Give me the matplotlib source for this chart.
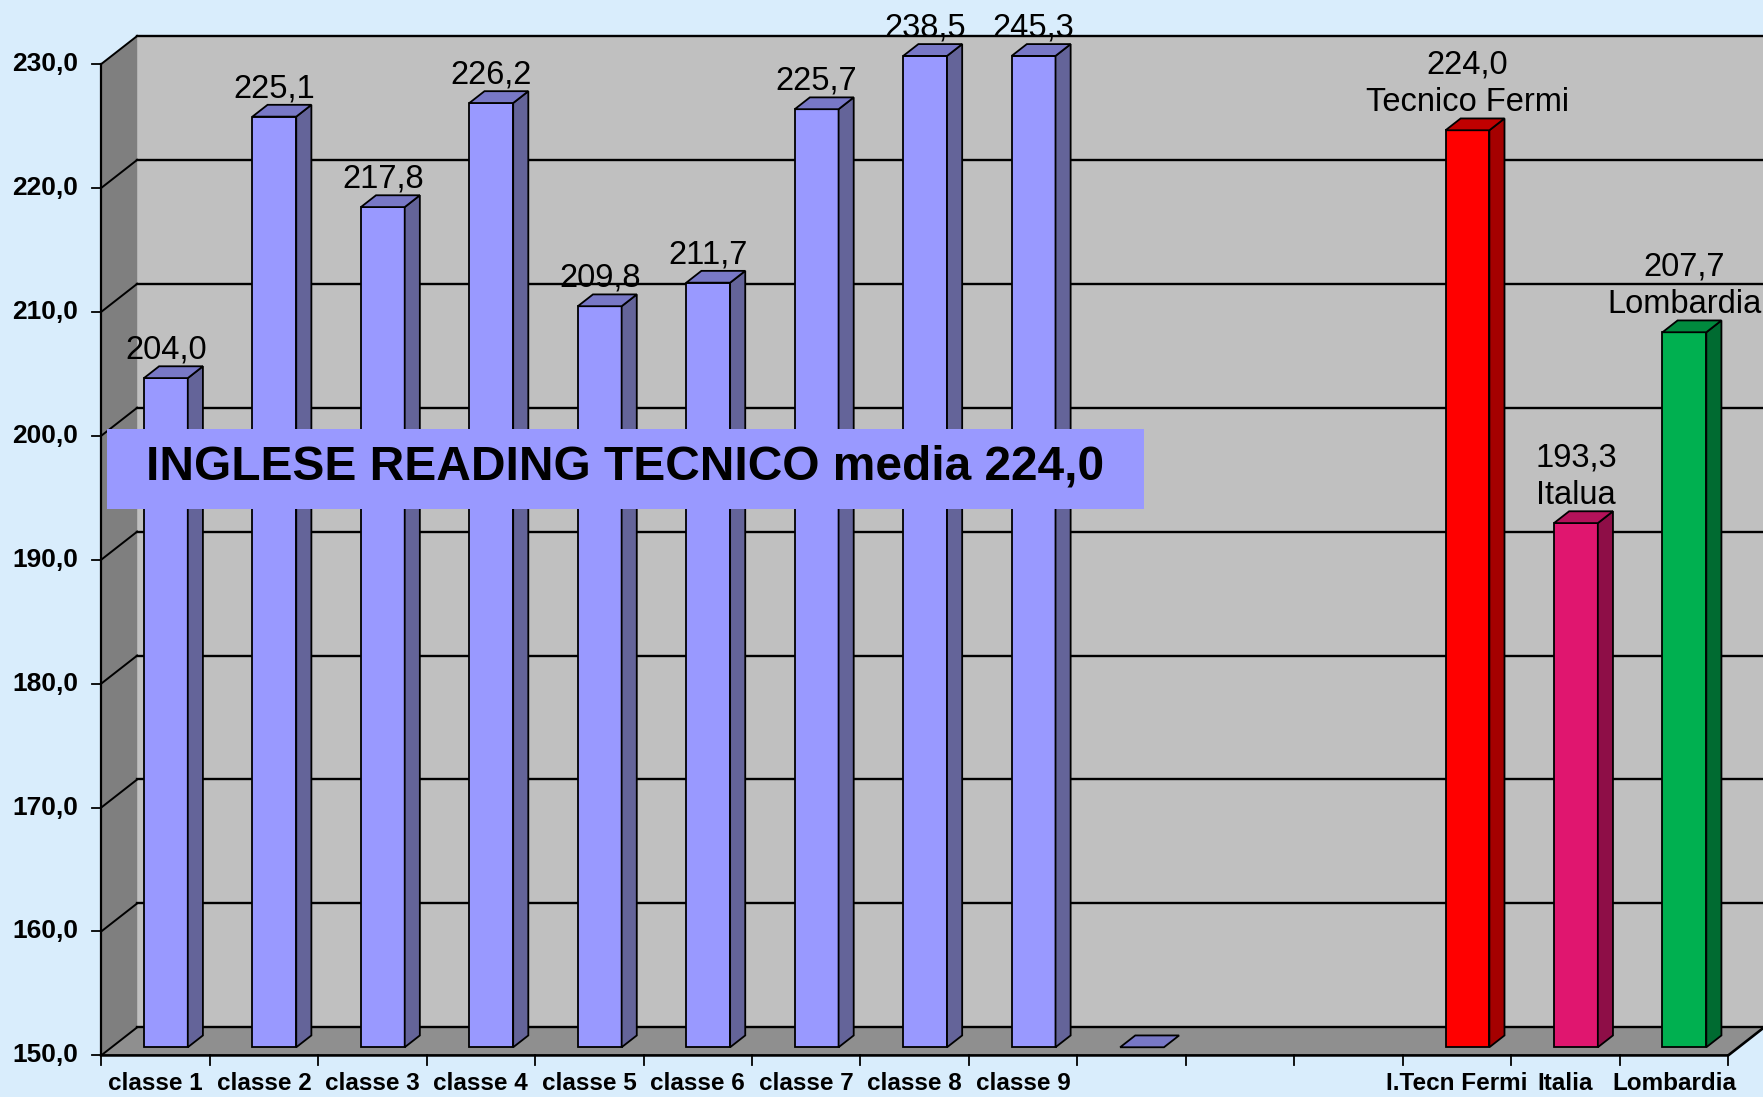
import matplotlib.pyplot as plt
from matplotlib.patches import Polygon
import numpy as np

plt.rcParams['font.family'] = ['Liberation Sans', 'DejaVu Sans']

# data
categories = ['classe 1', 'classe 2', 'classe 3', 'classe 4', 'classe 5', 'classe 6',
              'classe 7', 'classe 8', 'classe 9', '', '', '',
              'I.Tecn Fermi', 'Italia', 'Lombardia']
values = [204.0, 225.1, 217.8, 226.2, 209.8, 211.7, 225.7, 238.5, 245.3,
          0.0, None, None, 224.0, 192.3, 207.7]
value_labels = ['204,0', '225,1', '217,8', '226,2', '209,8', '211,7', '225,7', '238,5', '245,3',
                '', '', '', '224,0\nTecnico Fermi', '193,3\nItalua', '207,7\nLombardia']
yticks = [150, 160, 170, 180, 190, 200, 210, 220, 230]
title = 'INGLESE READING TECNICO media 224,0'

purple = ('#9999FF', '#646499', '#7878C6')
bar_colors = [purple] * 12 + [('#FF0000', '#A50000', '#C00000'),
                              ('#E0166F', '#8E0E47', '#B4125A'),
                              ('#00B050', '#006B31', '#008A3E')]

ymin, ymax = 150, 230
DX, DY = 0.332, 2.27        # full depth of the 3d box, in data units
d0, d1 = 0.29, 0.71         # bar front / back depth fraction
bw = 0.404                  # bar width

fig = plt.figure(figsize=(17.63, 10.97), dpi=100)
fig.patch.set_facecolor('#D9EDFC')
ax = fig.add_axes([0, 0, 1, 1])
ax.set_xlim(-0.933, 15.321)
ax.set_ylim(146.644, 235.17)
ax.axis('off')

n = len(categories)

# walls and floor
ax.add_patch(Polygon([(DX, ymin + DY), (n + 2 * DX, ymin + DY), (n + 2 * DX, ymax + DY), (DX, ymax + DY)],
                     closed=True, fc='#C0C0C0', ec='none', zorder=1))
ax.add_patch(Polygon([(0, ymin), (DX, ymin + DY), (DX, ymax + DY), (0, ymax)],
                     closed=True, fc='#7F7F7F', ec='none', zorder=1))
ax.add_patch(Polygon([(0, ymin), (n, ymin), (n + DX, ymin + DY), (DX, ymin + DY)],
                     closed=True, fc='#8F8F8F', ec='none', zorder=1.5))

for t in yticks:
    ax.plot([DX, n + 2 * DX], [t + DY, t + DY], color='black', lw=1.7, zorder=2)
    ax.plot([0, DX], [t, t + DY], color='black', lw=1.4, zorder=2)
    ax.plot([-0.085, 0], [t, t], color='black', lw=1.3, zorder=2)
    ax.text(-0.215, t, f'{t:.1f}'.replace('.', ','), ha='right', va='center',
            fontsize=19, fontweight='bold', zorder=5)

ax.plot([0, 0], [ymin, ymax], color='black', lw=1.6, zorder=2)
ax.plot([0, n, n + DX], [ymin, ymin, ymin + DY], color='black', lw=1.9, zorder=2)
for i in range(n + 1):
    ax.plot([i, i], [ymin, ymin - 0.8], color='black', lw=1.3, zorder=2)

for i, lab in enumerate(categories):
    ax.text(i + 0.5, 147.7, lab, ha='center', va='center', fontsize=17.5,
            fontweight='bold', zorder=5)

# bars
for i, v in enumerate(values):
    if v is None:
        continue
    front, side, topc = bar_colors[i]
    x0 = i + 0.5 - bw / 2
    fx, fy = d0 * DX, d0 * DY
    bx, by = d1 * DX, d1 * DY
    top = min(max(v, ymin), ymax)
    kw = dict(closed=True, ec='black', lw=1.3, zorder=3)
    if top > ymin:
        ax.add_patch(Polygon([(x0 + fx, ymin + fy), (x0 + bw + fx, ymin + fy),
                              (x0 + bw + fx, top + fy), (x0 + fx, top + fy)], fc=front, **kw))
        ax.add_patch(Polygon([(x0 + bw + fx, ymin + fy), (x0 + bw + bx, ymin + by),
                              (x0 + bw + bx, top + by), (x0 + bw + fx, top + fy)], fc=side, **kw))
    ax.add_patch(Polygon([(x0 + fx, top + fy), (x0 + bw + fx, top + fy),
                          (x0 + bw + bx, top + by), (x0 + bx, top + by)], fc=topc, **kw))

    lines = value_labels[i].split('\n') if value_labels[i] else []
    for k, line in enumerate(reversed(lines)):
        ax.text(x0 + bw / 2 + fx, top + fy + 2.25 + 3.0 * k, line, ha='center', va='center',
                fontsize=23.5, zorder=6)

# title box
ax.add_patch(Polygon([(0.052, 194.08), (9.61, 194.08), (9.61, 200.52), (0.052, 200.52)],
                     closed=True, fc='#9999FF', ec='none', zorder=7))
ax.text((0.052 + 9.61) / 2, 197.5, title, ha='center', va='center', fontsize=34.5,
        fontweight='bold', zorder=8)

fig.savefig('out.png', dpi=100, facecolor=fig.get_facecolor())
